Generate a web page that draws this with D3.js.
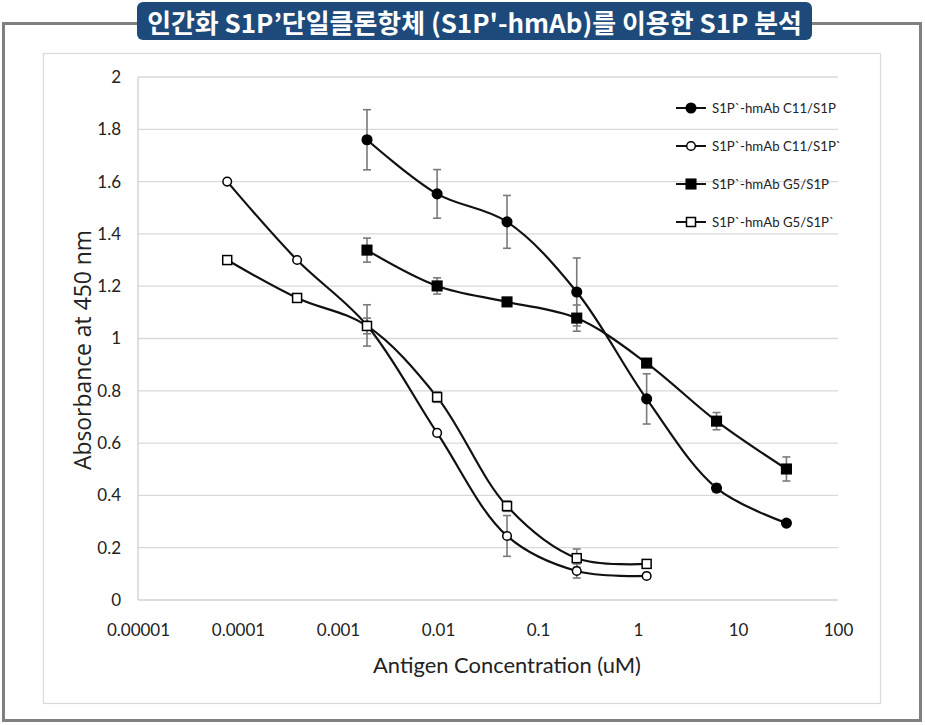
<!DOCTYPE html>
<html><head><meta charset="utf-8">
<script src="https://cdn.jsdelivr.net/npm/d3@7/dist/d3.min.js"></script>
<style>html,body{margin:0;padding:0;background:#fff;}svg{display:block;}</style>
</head><body>
<script>
// ---- data ----
const titleText = "인간화 S1P’단일클론항체 (S1P'-hmAb)를 이용한 S1P 분석";
const xTitle = "Antigen Concentration (uM)";
const yTitle = "Absorbance at 450 nm";
const concentrations = [0.000078, 0.00039, 0.00195, 0.0098, 0.049, 0.244, 1.22, 6.1, 30.5];
const seriesNames = ["S1P`-hmAb C11/S1P", "S1P`-hmAb C11/S1P`", "S1P`-hmAb G5/S1P", "S1P`-hmAb G5/S1P`"];
const c11S1P      = [null, null, 1.760, 1.553, 1.446, 1.178, 0.769, 0.428, 0.294];
const c11S1PErr   = [null, null, 0.115, 0.093, 0.101, 0.130, 0.096, 0.016, 0.012];
const c11S1Pp     = [1.600, 1.300, 1.050, 0.639, 0.245, 0.111, 0.092, null, null];
const c11S1PpErr  = [0, 0, 0.079, 0.010, 0.078, 0.027, 0.005, null, null];
const g5S1P       = [null, null, 1.338, 1.201, 1.140, 1.078, 0.906, 0.684, 0.501];
const g5S1PErr    = [null, null, 0.046, 0.031, 0.010, 0.050, 0.010, 0.033, 0.046];
const g5S1Pp      = [1.300, 1.155, 1.048, 0.776, 0.359, 0.160, 0.138, null, null];
const g5S1PpErr   = [0, 0, 0.030, 0.020, 0.020, 0.035, 0.010, null, null];
const xTicks = [0.00001, 0.0001, 0.001, 0.01, 0.1, 1, 10, 100];
const xTickLabels = ["0.00001", "0.0001", "0.001", "0.01", "0.1", "1", "10", "100"];
const yTicks = [0, 0.2, 0.4, 0.6, 0.8, 1, 1.2, 1.4, 1.6, 1.8, 2];
const yTickLabels = ["0", "0.2", "0.4", "0.6", "0.8", "1", "1.2", "1.4", "1.6", "1.8", "2"];

const series = [
  {name: seriesNames[0], vals: c11S1P, err: c11S1PErr, shape: "circle", filled: true},
  {name: seriesNames[1], vals: c11S1Pp, err: c11S1PpErr, shape: "circle", filled: false},
  {name: seriesNames[2], vals: g5S1P, err: g5S1PErr, shape: "square", filled: true},
  {name: seriesNames[3], vals: g5S1Pp, err: g5S1PpErr, shape: "square", filled: false}
];

// ---- layout ----
const W = 925, H = 725;
const plot = {l: 138, r: 838, t: 77, b: 600};
const svg = d3.select("body").append("svg").attr("width", W).attr("height", H);

function fit(sel, target) {
  const n = sel.node();
  const fs = parseFloat(sel.attr("font-size"));
  const w = n.getComputedTextLength();
  sel.attr("font-size", (fs * target / w).toFixed(2));
}

// outer frame
svg.append("rect").attr("x", 3.5).attr("y", 23.5).attr("width", 917).attr("height", 697)
  .attr("fill", "#fff").attr("stroke", "#808080").attr("stroke-width", 3);
// inner chart box
svg.append("rect").attr("x", 43.5).attr("y", 53.5).attr("width", 837).attr("height", 650)
  .attr("fill", "#fff").attr("stroke", "#d9d9d9").attr("stroke-width", 1.2);

// title box
svg.append("rect").attr("x", 137).attr("y", 2).attr("width", 675).attr("height", 38).attr("rx", 6)
  .attr("fill", "#1d4a7b");
const tt = svg.append("text").attr("x", 474.5).attr("y", 21).attr("text-anchor", "middle")
  .attr("dominant-baseline", "central")
  .attr("font-family", "'Noto Sans CJK KR', 'Noto Sans', sans-serif").attr("font-weight", 700)
  .attr("font-size", 22).attr("fill", "#fff").text(titleText);
fit(tt, 655);

const x = d3.scaleLog().domain([0.00001, 100]).range([plot.l, plot.r]);
const y = d3.scaleLinear().domain([0, 2]).range([plot.b, plot.t]);

// gridlines
svg.append("g").selectAll("line").data(yTicks.slice(1)).join("line")
  .attr("x1", plot.l).attr("x2", plot.r).attr("y1", d => y(d)).attr("y2", d => y(d))
  .attr("stroke", "#d9d9d9").attr("stroke-width", 1.3);
// axes lines
svg.append("line").attr("x1", plot.l).attr("x2", plot.l).attr("y1", plot.t).attr("y2", plot.b)
  .attr("stroke", "#d0d0d0").attr("stroke-width", 1.3);
svg.append("line").attr("x1", plot.l).attr("x2", plot.r).attr("y1", plot.b).attr("y2", plot.b)
  .attr("stroke", "#d0d0d0").attr("stroke-width", 1.3);

const tickFont = "Lato, 'Open Sans', sans-serif";
// y tick labels
const yAxis = d3.axisLeft(y).tickValues(yTicks).tickFormat((d, i) => yTickLabels[i]).tickSize(0).tickPadding(0);
const gy = svg.append("g").attr("transform", `translate(${121},0)`).call(yAxis);
gy.select(".domain").remove();
gy.selectAll("text").attr("font-family", tickFont).attr("font-size", 17).attr("fill", "#222");

// x tick labels
const xAxis = d3.axisBottom(x).tickValues(xTicks).tickFormat((d, i) => xTickLabels[i]).tickSize(0).tickPadding(0);
const gx = svg.append("g").attr("transform", `translate(0,${624})`).call(xAxis);
gx.select(".domain").remove();
gx.selectAll("text").attr("font-family", tickFont).attr("font-size", 17).attr("fill", "#222");

// axis titles
const xt = svg.append("text").attr("x", 507).attr("y", 673).attr("text-anchor", "middle")
  .attr("font-family", tickFont).attr("font-size", 20).attr("fill", "#222").text(xTitle);
fit(xt, 268);
const yt = svg.append("text").attr("transform", "translate(91,350) rotate(-90)").attr("text-anchor", "middle")
  .attr("font-family", "'Open Sans', 'DejaVu Sans', sans-serif").attr("font-size", 19).attr("fill", "#222").text(yTitle);
fit(yt, 240);

// lines
const line = d3.line().defined(d => d.v != null).x(d => x(d.c)).y(d => y(d.v)).curve(d3.curveCatmullRom.alpha(0.5));
series.forEach(s => {
  const pts = concentrations.map((c, i) => ({c, v: s.vals[i], e: s.err[i]})).filter(d => d.v != null);
  s.pts = pts;
  svg.append("path").datum(pts).attr("d", line).attr("fill", "none").attr("stroke", "#111").attr("stroke-width", 2.2);
});
// error bars
series.forEach(s => {
  const g = svg.append("g").attr("stroke", "#7a7a7a").attr("stroke-width", 1.6);
  s.pts.filter(d => d.e > 0).forEach(d => {
    const cx = x(d.c), y1 = y(d.v + d.e), y2 = y(d.v - d.e);
    g.append("line").attr("x1", cx).attr("x2", cx).attr("y1", y1).attr("y2", y2);
    g.append("line").attr("x1", cx - 4).attr("x2", cx + 4).attr("y1", y1).attr("y2", y1);
    g.append("line").attr("x1", cx - 4).attr("x2", cx + 4).attr("y1", y2).attr("y2", y2);
  });
});
// markers
function marker(g, s, cx, cy) {
  if (s.shape === "circle") {
    g.append("circle").attr("cx", cx).attr("cy", cy).attr("r", s.filled ? 4.8 : 4.3)
      .attr("fill", s.filled ? "#000" : "#fff").attr("stroke", "#000").attr("stroke-width", 1.5);
  } else {
    const h = s.filled ? 4.8 : 4.5;
    g.append("rect").attr("x", cx - h).attr("y", cy - h).attr("width", 2 * h).attr("height", 2 * h)
      .attr("fill", s.filled ? "#000" : "#fff").attr("stroke", "#000").attr("stroke-width", 1.5);
  }
}
series.forEach(s => {
  const g = svg.append("g");
  s.pts.forEach(d => marker(g, s, x(d.c), y(d.v)));
});

// legend
const legY = [108, 146, 184, 222];
let legFs = null;
series.forEach((s, i) => {
  const g = svg.append("g");
  g.append("line").attr("x1", 676).attr("x2", 706).attr("y1", legY[i]).attr("y2", legY[i])
    .attr("stroke", "#111").attr("stroke-width", 2);
  marker(g, s, 691, legY[i]);
  const t = g.append("text").attr("x", 712).attr("y", legY[i]).attr("dominant-baseline", "central")
    .attr("font-family", tickFont).attr("font-size", 13).attr("fill", "#222").text(s.name);
  if (i === 0) { fit(t, 124); legFs = t.attr("font-size"); } else t.attr("font-size", legFs);
});
</script>
</body></html>
